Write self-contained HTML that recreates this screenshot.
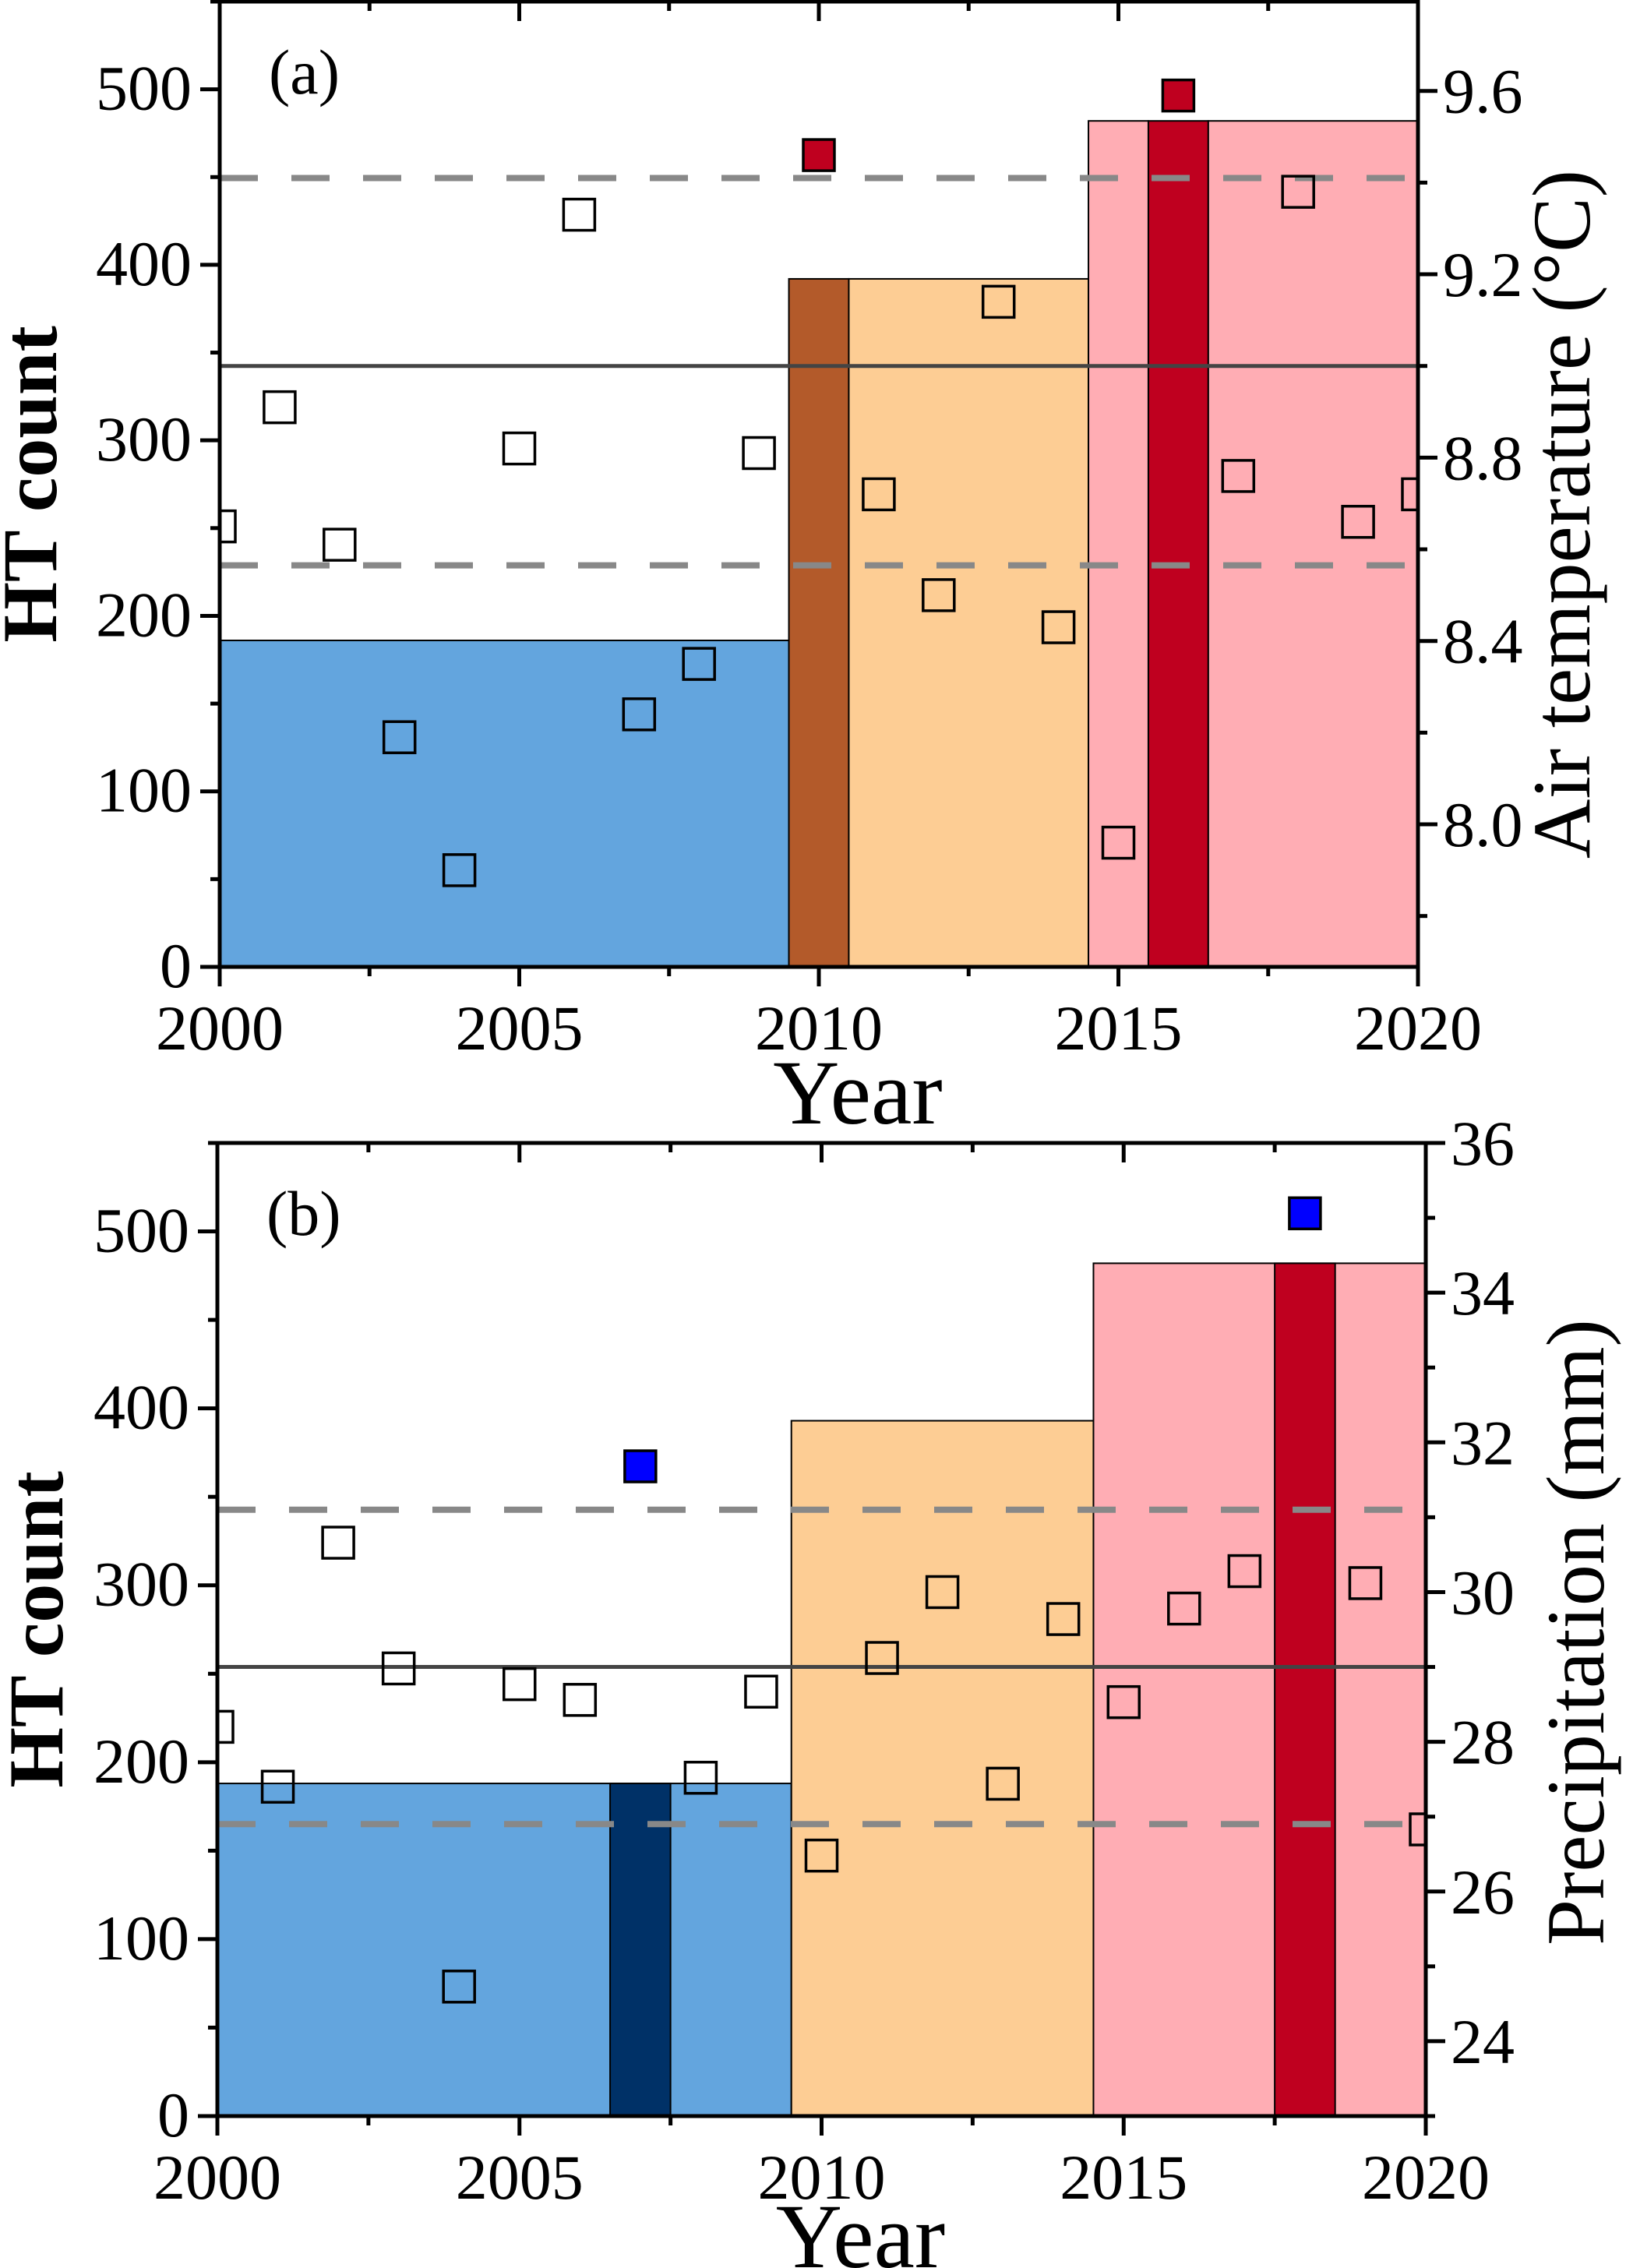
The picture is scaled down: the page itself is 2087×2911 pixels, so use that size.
<!DOCTYPE html>
<html><head><meta charset="utf-8">
<style>
html,body{margin:0;padding:0;background:#fff;}
svg{display:block;font-family:"Liberation Serif",serif;}
</style></head>
<body>
<svg id="chart" width="2087" height="2911" viewBox="0 0 2087 2911" xmlns="http://www.w3.org/2000/svg"></svg>
<script>
const years = [2000,2001,2002,2003,2004,2005,2006,2007,2008,2009,2010,2011,2012,2013,2014,2015,2016,2017,2018,2019,2020];
const tempValues = [8.65,8.91,8.61,8.19,7.90,8.82,9.33,8.24,8.35,8.81,9.46,8.72,8.50,9.14,8.43,7.96,9.59,8.76,9.38,8.66,8.72];
const tempHighlight = [2010,2016];
const tempMean = 9.0;
const tempBands = [9.41,8.565];
const precipValues = [28.20,27.40,30.66,28.98,24.73,28.77,28.56,31.68,27.52,28.67,26.48,29.12,30.00,27.44,29.64,28.53,29.78,30.28,35.06,30.12,26.83];
const precipHighlight = [2007,2018];
const precipMean = 29.0;
const precipBands = [31.1,26.9];
// HT count bars: [start, end, count]
const barsA = [[2000,2009.5,186],[2009.5,2010.5,392],[2010.5,2014.5,392],[2014.5,2015.5,482],[2015.5,2016.5,482],[2016.5,2020,482]];
const barColorsA = ['#63A5DE','#B35A2A','#FDCD94','#FFADB4','#BF001F','#FFADB4'];
const barsB = [[2000,2009.5,188],[2006.5,2007.5,188],[2009.5,2014.5,393],[2014.5,2020,482],[2017.5,2018.5,482]];
const barColorsB = ['#63A5DE','#003167','#FDCD94','#FFADB4','#BF001F'];
const leftTicks = [0,100,200,300,400,500];
const xTicks = [2000,2005,2010,2015,2020];
const tempTicks = [8.0,8.4,8.8,9.2,9.6];
const precipTicks = [24,26,28,30,32,34,36];

const NS='http://www.w3.org/2000/svg';
const svg=document.getElementById('chart');
function mk(tag,attrs,parent){const e=document.createElementNS(NS,tag);for(const k in attrs)e.setAttribute(k,attrs[k]);(parent||svg).appendChild(e);return e;}

function panel(cfg){
  const {L,R,T,B,id}=cfg;
  const g=mk('g',{});
  
  
  const xs=v=>L+(v-2000)/20*(R-L);
  const yl=v=>B-v/550*(B-T);
  const yr=v=>B-(v-cfg.rmin)/(cfg.rmax-cfg.rmin)*(B-T);
  const clip=mk('clipPath',{id:'clip'+id},g);
  mk('rect',{x:L,y:T,width:R-L,height:B-T},clip);
  const plot=mk('g',{'clip-path':'url(#clip'+id+')'},g);
  cfg.bars.forEach((b,i)=>{
    const r=mk('rect',{x:xs(b[0]),y:yl(b[2]),width:xs(b[1])-xs(b[0]),height:B-yl(b[2]),fill:cfg.colors[i],stroke:'#000','stroke-width':2},plot);
    
    
  });
  cfg.bands.forEach(v=>{
    const l=mk('line',{x1:L,x2:R,y1:yr(v),y2:yr(v),stroke:'#888','stroke-width':8,'stroke-dasharray':'49 43'},plot);
    
    
  });
  const ml=mk('line',{x1:L,x2:R,y1:yr(cfg.mean),y2:yr(cfg.mean),stroke:'#444','stroke-width':5},plot);
  
  
  const s=40;
  years.forEach((yr0,i)=>{
    const hl=cfg.hl.includes(yr0);
    const p=mk('rect',{x:xs(yr0)-s/2,y:yr(cfg.vals[i])-s/2,width:s,height:s,fill:hl?cfg.hlColor:'none',stroke:'#000','stroke-width':3.5},plot);
    
    
  });
  mk('rect',{x:L,y:T,width:R-L,height:B-T,fill:'none',stroke:'#000','stroke-width':5},g);
  for(let v=2000;v<=2020;v+=2.5){
    const maj=(v%5===0);const len=maj?25:12;
    mk('line',{x1:xs(v),x2:xs(v),y1:B,y2:B+len,stroke:'#000','stroke-width':5},g);
    mk('line',{x1:xs(v),x2:xs(v),y1:T,y2:T+len,stroke:'#000','stroke-width':5},g);
  }
  xTicks.forEach(v=>{
    const t=mk('text',{x:xs(v),y:B+106,'font-size':82,'text-anchor':'middle'},g);t.textContent=v;
    
    
  });
  for(let v=0;v<=550;v+=50){
    const len=(v%100===0)?25:12;
    mk('line',{x1:L-len,x2:L,y1:yl(v),y2:yl(v),stroke:'#000','stroke-width':5},g);
  }
  leftTicks.forEach(v=>{
    const t=mk('text',{x:L-36,y:yl(v)+26,'font-size':82,'text-anchor':'end'},g);t.textContent=v;
    
    
  });
  for(let v=cfg.rminTick;v<=cfg.rmax+1e-9;v+=cfg.rminor){
    const maj=Math.abs(((v-cfg.rticks[0])/cfg.rmajor)-Math.round((v-cfg.rticks[0])/cfg.rmajor))<1e-6;
    mk('line',{x1:R,x2:R+(maj?25:12),y1:yr(v),y2:yr(v),stroke:'#000','stroke-width':5},g);
  }
  cfg.rticks.forEach(v=>{
    const t=mk('text',{x:R+32,y:yr(v)+28,'font-size':82},g);t.textContent=cfg.rfmt(v);
    
    
  });
  const pl=mk('text',{x:L+63,y:T+118,'font-size':82},g);pl.textContent='('+id+')';
  
  
  const xt=mk('text',{x:(L+R)/2+50,y:cfg.yearY,'font-size':118,'text-anchor':'middle'},g);xt.textContent='Year';
  
  
  const lc=(T+B)/2;
  const lt=mk('text',{x:0,y:0,'font-size':100,'font-weight':'bold','text-anchor':'middle',transform:`translate(${cfg.ltX},${lc}) rotate(-90)`},g);lt.textContent='HT count';
  
  
  const rt=mk('text',{x:0,y:0,'font-size':106,'text-anchor':'middle',transform:`translate(${cfg.rtX},${cfg.rtY}) rotate(-90)`},g);rt.textContent=cfg.rtitle;
  
  
}

panel({id:'a',L:282,R:1820,T:2,B:1241,rmin:7.689,rmax:9.795,rminTick:7.8,rminor:0.2,rmajor:0.4,rticks:tempTicks,rfmt:v=>v.toFixed(1),
  bars:barsA,colors:barColorsA,bands:tempBands,mean:tempMean,vals:tempValues,hl:tempHighlight,hlColor:'#BF001F',
  yearY:1442,ltX:72,rtX:2040,rtY:660,rtitle:'Air temperature (°C)'});
panel({id:'b',L:279,R:1830,T:1467,B:2716,rmin:23,rmax:36,rminTick:23,rminor:1,rmajor:2,rticks:precipTicks,rfmt:v=>v,
  bars:barsB,colors:barColorsB,bands:precipBands,mean:precipMean,vals:precipValues,hl:precipHighlight,hlColor:'#0000FF',
  yearY:2910,ltX:80,rtX:2058,rtY:2095,rtitle:'Precipitation (mm)'});
</script>
</body></html>
